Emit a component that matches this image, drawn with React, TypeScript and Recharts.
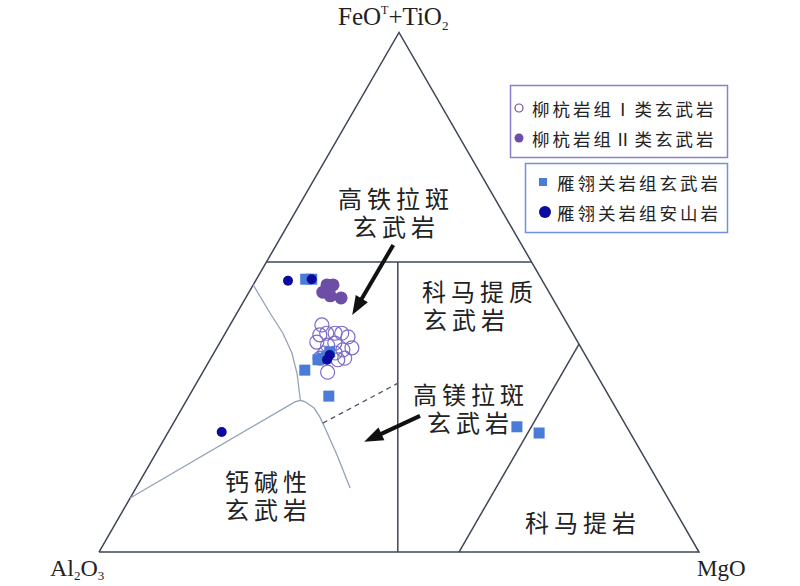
import React from "react";
import { ScatterChart, Scatter, XAxis, YAxis } from "recharts";

// ternary compositions: [Al2O3, FeOT+TiO2, MgO] (%)
type Tern = [number, number, number];

const typeIBasalt: Tern[] = [
  [41.0, 43.7, 15.3], [42.3, 41.8, 15.9], [43.5, 40.4, 16.1], [41.0, 42.1, 16.9],
  [39.6, 42.1, 18.3], [38.5, 42.1, 19.4], [37.8, 41.4, 20.8], [38.2, 39.3, 22.5],
  [39.9, 38.9, 21.2], [42.0, 39.8, 18.2], [41.5, 38.3, 20.2], [40.4, 37.3, 22.3],
  [44.5, 37.3, 18.2], [44.6, 34.6, 20.8], [41.7, 37.0, 21.3], [43.2, 38.3, 18.5],
  [40.6, 40.2, 19.2],
];

const typeIIBasalt: Tern[] = [
  [36.3, 51.4, 12.3], [37.7, 50.0, 12.3], [36.8, 49.3, 13.9],
  [35.2, 48.9, 15.9], [36.6, 50.4, 13.0], [35.3, 51.4, 13.3],
];

const ylgBasalt: Tern[] = [
  [39.3, 52.5, 8.2], [38.3, 52.5, 9.2], [45.0, 37.0, 18.0], [43.3, 37.5, 19.2],
  [42.3, 38.5, 19.2], [48.2, 35.0, 16.8], [46.7, 30.0, 23.3], [18.3, 24.1, 57.6],
  [15.2, 22.9, 61.9], [44.2, 37.3, 18.5],
];

const ylgAndesite: Tern[] = [
  [42.4, 52.2, 5.4], [68.0, 23.1, 8.9], [42.6, 37.9, 19.5], [43.5, 37.0, 19.5],
  [38.3, 52.5, 9.2],
];

// field boundaries
const outline: Tern[] = [[100, 0, 0], [0, 100, 0], [0, 0, 100], [100, 0, 0]];
const hftLine: Tern[] = [[44.2, 55.8, 0], [0, 55.8, 44.2]];
const midLine: Tern[] = [[22.3, 55.8, 21.9], [50.2, 0, 49.8]];
const komLine: Tern[] = [[40, 0, 60], [0, 40, 60]];
const calcUpper: Tern[] = [
  [48.6, 51.4, 0], [48.5, 46.0, 5.5], [48.3, 42.1, 9.6], [48.7, 38.3, 13.0],
  [49.8, 34.4, 15.8], [51.8, 29.3, 18.9],
];
const calcLower: Tern[] = [
  [89.6, 10.4, 0], [52.9, 28.9, 18.2], [51.8, 29.2, 19.0], [51.2, 28.9, 19.9],
  [50.3, 27.7, 22.0], [50.2, 26.0, 23.8], [50.4, 23.9, 25.7], [51.0, 18.7, 30.3],
  [52.0, 12.3, 35.7],
];
const dashLine: Tern[] = [[50.3, 24.8, 24.9], [33.9, 32.5, 33.6]];
const arrow1: Tern[] = [[21.4, 59.1, 19.5], [35.0, 45.6, 19.4]];
const arrow2: Tern[] = [[33.4, 26.2, 40.4], [45.2, 21.2, 33.6]];

const fieldLabels = [
  { lines: ["高铁拉斑", "玄武岩"], x: [338, 353], y: 197 },
  { lines: ["科马提质", "玄武岩"], x: [422, 423], y: 290 },
  { lines: ["高镁拉斑", "玄武岩"], x: [413, 427], y: 393 },
  { lines: ["钙碱性", "玄武岩"], x: [225, 225], y: 480 },
  { lines: ["科马提岩"], x: [525], y: 521 },
];

const toXY = (t: Tern) => {
  const s = t[0] + t[1] + t[2];
  const f = (t[1] / s) * 100;
  const m = (t[2] / s) * 100;
  return { x: m + f / 2, y: (f * Math.sqrt(3)) / 2 };
};
const pts = (arr: Tern[]) => arr.map(toXY);

const arrowParts = (arr: Tern[]) => {
  const a = toXY(arr[0]);
  const b = toXY(arr[1]);
  const ang = (Math.atan2(-(b.y - a.y), b.x - a.x) * 180) / Math.PI;
  const shaft = [a, { x: a.x + (b.x - a.x) * 0.8, y: a.y + (b.y - a.y) * 0.8 }];
  return { shaft, head: [{ ...b, ang }] };
};
const ar1 = arrowParts(arrow1);
const ar2 = arrowParts(arrow2);

const NoDot = () => <g />;
const OpenCircle = (p: any) => (
  <circle cx={p.cx} cy={p.cy} r={7} fill="none" stroke="#7c6bc8" strokeWidth={1.2} />
);
const FilledCircle = (p: any) => <circle cx={p.cx} cy={p.cy} r={6.5} fill="#6d4ea6" />;
const Square = (p: any) => (
  <rect x={p.cx - 5.5} y={p.cy - 5.5} width={11} height={11} fill="#4a7bd8" />
);
const DarkDot = (p: any) => <circle cx={p.cx} cy={p.cy} r={5} fill="#0b0b9e" />;
const Head = (p: any) => (
  <polygon
    points="0,0 -19,-7 -19,7"
    fill="#111"
    transform={`translate(${p.cx},${p.cy}) rotate(${p.payload.ang})`}
  />
);

const lineStyle = { stroke: "#3d4756", strokeWidth: 1.5 };
const curveStyle = { stroke: "#94a3b6", strokeWidth: 1.3 };
const cjk = '"Noto Sans CJK SC", sans-serif';
const serif = '"Liberation Serif", "Times New Roman", serif';

export default function App() {
  return (
    <div style={{ position: "absolute", left: 0, top: 0, width: 800, height: 586, background: "#fff" }}>
      <ScatterChart width={800} height={586} margin={{ top: 0, right: 0, bottom: 0, left: 0 }}>
        <XAxis type="number" dataKey="x" domain={[-16.5, 116.8333]} hide allowDataOverflow />
        <YAxis type="number" dataKey="y" domain={[-5.6667, 92]} hide allowDataOverflow />
        <Scatter data={pts(outline)} line={lineStyle} lineType="joint" shape={NoDot} isAnimationActive={false} />
        <Scatter data={pts(hftLine)} line={lineStyle} lineType="joint" shape={NoDot} isAnimationActive={false} />
        <Scatter data={pts(midLine)} line={lineStyle} lineType="joint" shape={NoDot} isAnimationActive={false} />
        <Scatter data={pts(komLine)} line={lineStyle} lineType="joint" shape={NoDot} isAnimationActive={false} />
        <Scatter data={pts(calcUpper)} line={curveStyle} lineType="joint" shape={NoDot} isAnimationActive={false} />
        <Scatter data={pts(calcLower)} line={curveStyle} lineType="joint" shape={NoDot} isAnimationActive={false} />
        <Scatter
          data={pts(dashLine)}
          line={{ stroke: "#4a5666", strokeWidth: 1.3, strokeDasharray: "5 4" }}
          lineType="joint"
          shape={NoDot}
          isAnimationActive={false}
        />
        <Scatter data={ar1.shaft} line={{ stroke: "#111", strokeWidth: 4 }} lineType="joint" shape={NoDot} isAnimationActive={false} />
        <Scatter data={ar1.head} shape={Head} isAnimationActive={false} />
        <Scatter data={ar2.shaft} line={{ stroke: "#111", strokeWidth: 4 }} lineType="joint" shape={NoDot} isAnimationActive={false} />
        <Scatter data={ar2.head} shape={Head} isAnimationActive={false} />
        <Scatter data={pts(typeIBasalt)} shape={OpenCircle} isAnimationActive={false} />
        <Scatter data={pts(typeIIBasalt)} shape={FilledCircle} isAnimationActive={false} />
        <Scatter data={pts(ylgBasalt)} shape={Square} isAnimationActive={false} />
        <Scatter data={pts(ylgAndesite)} shape={DarkDot} isAnimationActive={false} />
      </ScatterChart>
      <svg width={800} height={586} style={{ position: "absolute", left: 0, top: 0, pointerEvents: "none" }}>
        <text x={338} y={25} fontFamily={serif} fontSize={25} fill="#222">
          FeO<tspan fontSize={12} dy={-11}>T</tspan>
          <tspan dy={11}>+TiO</tspan>
          <tspan fontSize={13} dy={5}>2</tspan>
        </text>
        <text x={50} y={576} fontFamily={serif} fontSize={24} fill="#222">
          Al<tspan fontSize={13} dy={4}>2</tspan>
          <tspan dy={-4}>O</tspan>
          <tspan fontSize={13} dy={4}>3</tspan>
        </text>
        <text x={697} y={576} fontFamily={serif} fontSize={23} fill="#222">MgO</text>
        {fieldLabels.map((f, i) => (
          <text
            key={i}
            fontFamily={cjk}
            fontSize={24}
            letterSpacing={5}
            dominantBaseline="central"
            fill="#222"
          >
            {f.lines.map((s, j) => (
              <tspan key={j} x={f.x[j]} y={f.y + j * 28}>
                {s}
              </tspan>
            ))}
          </text>
        ))}
        <rect x={510.5} y={85.5} width={217} height={72} fill="#fff" stroke="#8a80d0" strokeWidth={1.5} />
        <circle cx={519} cy={108} r={4} fill="#fff" stroke="#6d4ea6" strokeWidth={1.2} />
        <text x={532} y={108} fontFamily={cjk} fontSize={17.5} letterSpacing={3} dominantBaseline="central" fill="#222">
          柳杭岩组Ⅰ类玄武岩
        </text>
        <circle cx={519} cy={138} r={4.5} fill="#6d4ea6" />
        <text x={532} y={138} fontFamily={cjk} fontSize={17.5} letterSpacing={3} dominantBaseline="central" fill="#222">
          柳杭岩组Ⅱ类玄武岩
        </text>
        <rect x={525.5} y={163.5} width={202} height={69} fill="#fff" stroke="#7090e0" strokeWidth={1.5} />
        <rect x={539} y={178} width={8} height={8} fill="#4a7bd8" />
        <text x={557} y={182} fontFamily={cjk} fontSize={17.5} letterSpacing={3} dominantBaseline="central" fill="#222">
          雁翎关岩组玄武岩
        </text>
        <circle cx={545} cy={212} r={6} fill="#0b0b9e" />
        <text x={557} y={212} fontFamily={cjk} fontSize={17.5} letterSpacing={3} dominantBaseline="central" fill="#222">
          雁翎关岩组安山岩
        </text>
      </svg>
    </div>
  );
}
